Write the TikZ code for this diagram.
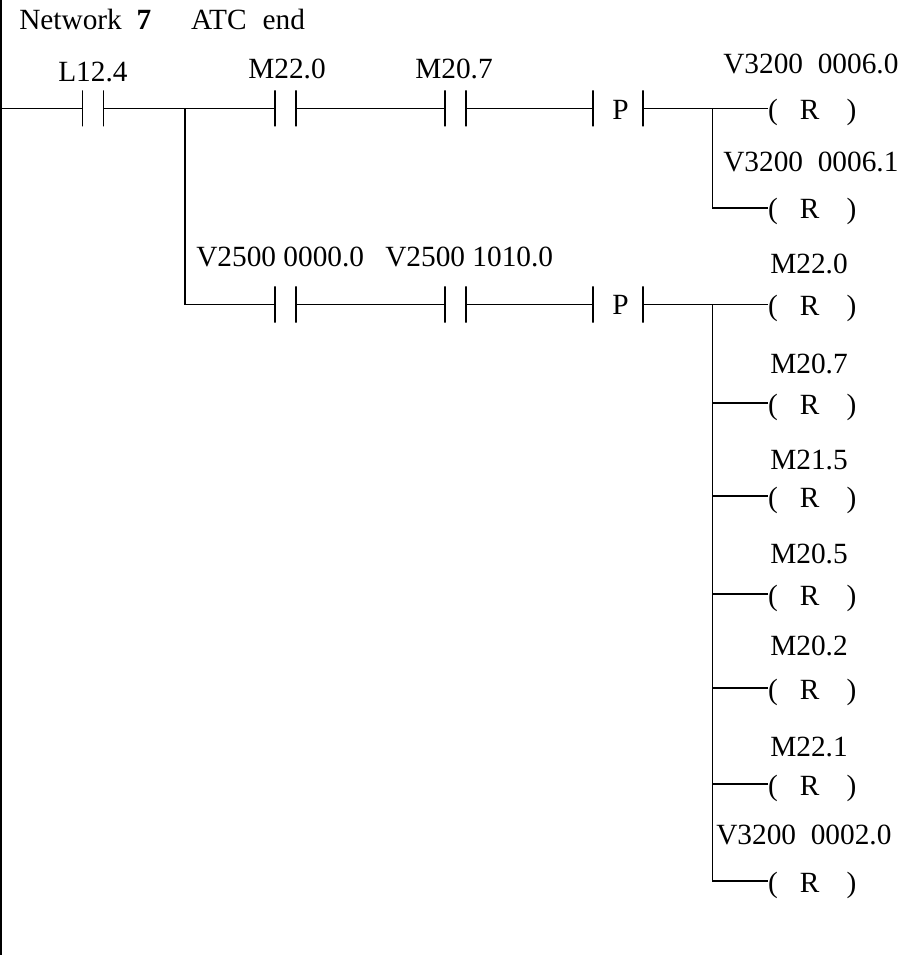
\documentclass[tikz,border=0pt]{standalone}
\usepackage{fontspec}
\setmainfont{Liberation Serif}

\begin{document}
\begin{tikzpicture}[x=0.75pt,y=0.75pt,yscale=-1,xscale=1,
	wire/.style={line width=0.95pt},
	rail/.style={line width=1.5pt},
	bar/.style={draw,line width=0.8pt,minimum width=0pt,minimum height=27pt,inner sep=0pt,outer sep=0pt},
	lbl/.style={anchor=base west,inner sep=0pt,font=\fontsize{22}{26}\selectfont},
	coil/.style={anchor=west,inner sep=0pt,outer sep=0pt,text height=16.5pt,text depth=0pt,font=\fontsize{22}{26}\selectfont}]
	\useasboundingbox (0,0) rectangle (898,955);
	
	% Power rail
	\coordinate (railtop) at (1,0);
	\coordinate (railbot) at (1,955);
	\coordinate (railrung) at (1,108.5);
	\draw [rail] (railtop) -- (railbot);
	
	% Contact bars, upper rung
	\node (l124a) [bar] at (82.5,108.5) {};
	\node (l124b) [bar] at (103.5,108.5) {};
	\node (m220a) [bar] at (275,108.5) {};
	\node (m220b) [bar] at (296,108.5) {};
	\node (m207a) [bar] at (445,108.5) {};
	\node (m207b) [bar] at (466,108.5) {};
	\node (pupa) [bar] at (593,108.5) {};
	\node (pupb) [bar] at (643,108.5) {};
	% Contact bars, lower rung
	\node (v25aa) [bar] at (275,304.5) {};
	\node (v25ab) [bar] at (296,304.5) {};
	\node (v25ba) [bar] at (445,304.5) {};
	\node (v25bb) [bar] at (466,304.5) {};
	\node (plowa) [bar] at (593,304.5) {};
	\node (plowb) [bar] at (643,304.5) {};
	
	% Coils
	\node (coila) [coil] at (768,108.5) {(\hspace{16.5pt}R\hspace{20.5pt})};
	\node (coilb) [coil] at (768,208) {(\hspace{16.5pt}R\hspace{20.5pt})};
	\node (coilc) [coil] at (768,304.5) {(\hspace{16.5pt}R\hspace{20.5pt})};
	\node (coild) [coil] at (768,403) {(\hspace{16.5pt}R\hspace{20.5pt})};
	\node (coile) [coil] at (768,496) {(\hspace{16.5pt}R\hspace{20.5pt})};
	\node (coilf) [coil] at (768,594) {(\hspace{16.5pt}R\hspace{20.5pt})};
	\node (coilg) [coil] at (768,688) {(\hspace{16.5pt}R\hspace{20.5pt})};
	\node (coilh) [coil] at (768,784) {(\hspace{16.5pt}R\hspace{20.5pt})};
	\node (coili) [coil] at (768,881) {(\hspace{16.5pt}R\hspace{20.5pt})};
	
	% Junctions
	\coordinate (jsplit) at (185,108.5);
	\coordinate (jup) at (712.5,108.5);
	\coordinate (jlow) at (712.5,304.5);
	\coordinate (jd) at (712.5,403);
	\coordinate (je) at (712.5,496);
	\coordinate (jf) at (712.5,594);
	\coordinate (jg) at (712.5,688);
	\coordinate (jh) at (712.5,784);
	
	% Upper rung
	\draw [wire] (railrung) -- (l124a);
	\draw [wire] (l124b) -- (m220a);
	\draw [wire] (m220b) -- (m207a);
	\draw [wire] (m207b) -- (pupa);
	\draw [wire] (pupb) -- (coila);
	\draw [wire] (jup) |- (coilb);
	% Lower rung
	\draw [wire] (jsplit) |- (v25aa);
	\draw [wire] (v25ab) -- (v25ba);
	\draw [wire] (v25bb) -- (plowa);
	\draw [wire] (plowb) -- (coilc);
	\draw [wire] (jlow) |- (coili);
	\draw [wire] (jd) -- (coild);
	\draw [wire] (je) -- (coile);
	\draw [wire] (jf) -- (coilf);
	\draw [wire] (jg) -- (coilg);
	\draw [wire] (jh) -- (coilh);
	
	% Text Node
	\node (title) [lbl] at (19,30) {Network\hspace{11pt}\textbf{7}\hspace{30pt}ATC\hspace{12pt}end};
	% Text Node
	\node (tl124) [lbl] at (58,82) {L12.4};
	\node (tm220) [lbl] at (248,79) {M22.0};
	\node (tm207) [lbl] at (415,79) {M20.7};
	\node (tpup) [lbl] at (612,119.5) {P};
	\node (tv25a) [lbl] at (196,267) {V2500 0000.0};
	\node (tv25b) [lbl] at (385,267) {V2500 1010.0};
	\node (tplow) [lbl] at (612,314.5) {P};
	% Text Node
	\node (tcoila) [lbl] at (723,74) {V3200\ \ 0006.0};
	\node (tcoilb) [lbl] at (723,172) {V3200\ \ 0006.1};
	\node (tcoilc) [lbl] at (770,274) {M22.0};
	\node (tcoild) [lbl] at (770,373) {M20.7};
	\node (tcoile) [lbl] at (770,469) {M21.5};
	\node (tcoilf) [lbl] at (770,563) {M20.5};
	\node (tcoilg) [lbl] at (770,655) {M20.2};
	\node (tcoilh) [lbl] at (770,756) {M22.1};
	\node (tcoili) [lbl] at (716,844) {V3200\ \ 0002.0};
\end{tikzpicture}
\end{document}
